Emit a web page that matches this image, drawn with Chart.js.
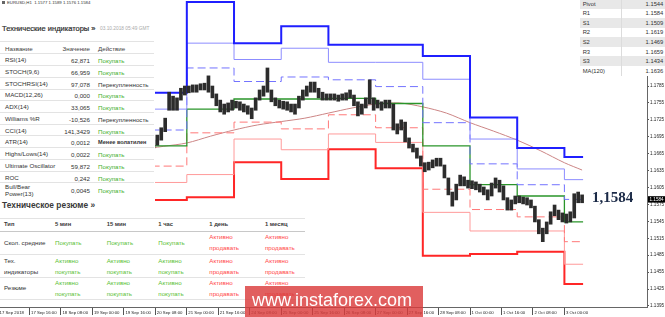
<!DOCTYPE html>
<html>
<head>
<meta charset="utf-8">
<script src="https://cdn.jsdelivr.net/npm/chart.js@4.4.1/dist/chart.umd.min.js"></script>
<style>
  body { margin: 0; background: #fff; font-family: "Liberation Sans", Arial, sans-serif; }
  #wrap { position: relative; width: 665px; height: 317px; overflow: hidden; background: #fff; }
  #chart { position: absolute; left: 0; top: 0; }
  .box { position: absolute; background: #fff; }
  .t { position: absolute; white-space: pre; }
  .row { position: absolute; left: 0; border-top: 1px solid #e3e3e3; }
  .mid { position: absolute; top: 50%; transform: translateY(-50%); white-space: pre; }
</style>
</head>
<body>
<div id="wrap">
  <canvas id="chart" width="665" height="317"></canvas>
  <div id="indPanel" class="box" style="left:0;top:0;width:155px;height:214px"></div>
  <div id="sumPanel" class="box" style="left:0;top:214px;width:305px;height:86px"></div>
  <div id="pivPanel" class="box" style="left:580px;top:-1px;width:85px;height:77px"></div>
  <div class="t" id="bigPrice" style="left:592px;top:190px;font:bold 15px/15px 'Liberation Serif',serif;color:#1b2a47"></div>
  <div class="t" id="mark" style="left:245px;top:286px;width:178px;height:31px;padding-left:7px;box-sizing:border-box;background:rgba(218,60,60,0.82);color:#fff;font-size:18px;line-height:29px">www.instaforex.com</div>
</div>
<script>
// --- price axis / time axis ---
const tickBars = [0, 16, 32, 48, 64, 80, 96, 112, 128, 144, 160, 176, 192, 208, 224, 240, 256, 272, 288];
const tickLabels = ["17 Sep 2018", "17 Sep 16:00", "18 Sep 08:00", "19 Sep 00:00", "19 Sep 16:00", "20 Sep 08:00",
  "21 Sep 00:00", "21 Sep 16:00", "24 Sep 08:00", "25 Sep 00:00", "25 Sep 16:00", "26 Sep 08:00", "27 Sep 00:00",
  "27 Sep 16:00", "28 Sep 08:00", "1 Oct 00:00", "1 Oct 16:00", "2 Oct 08:00", "3 Oct 00:00"];
const priceTicks = ["1.1395", "1.1425", "1.1455", "1.1485", "1.1515", "1.1545", "1.1575", "1.1605", "1.1635",
  "1.1665", "1.1695", "1.1725", "1.1755", "1.1785", "1.1815", "1.1845", "1.1875", "1.1905"];
const lastPrice = 1.1584;

// --- H1 candles, two hours per entry, starting at bar 79 ---
const candleFirstBar = 79;
const candleHigh = [1.1689,1.1698,1.1711,1.1728,1.1774,1.1767,1.1764,1.1781,1.1785,1.1785,
  1.1787,1.1787,1.1789,1.1790,1.1803,1.1785,1.1771,1.1760,1.1753,1.1755,
  1.1760,1.1758,1.1757,1.1753,1.1750,1.1746,1.1764,1.1778,1.1785,1.1817,
  1.1778,1.1764,1.1760,1.1758,1.1757,1.1753,1.1753,1.1767,1.1778,1.1785,
  1.1792,1.1792,1.1781,1.1774,1.1771,1.1771,1.1771,1.1769,1.1771,1.1773,
  1.1778,1.1769,1.1757,1.1753,1.1764,1.1796,1.1764,1.1760,1.1757,1.1760,
  1.1760,1.1753,1.1718,1.1725,1.1721,1.1693,1.1682,1.1675,1.1661,1.1649,
  1.1650,1.1654,1.1657,1.1657,1.1645,1.1622,1.1597,1.1611,1.1627,1.1624,
  1.1618,1.1617,1.1615,1.1611,1.1606,1.1601,1.1613,1.1622,1.1618,1.1608,
  1.1587,1.1583,1.1590,1.1590,1.1588,1.1587,1.1583,1.1572,1.1548,1.1533,
  1.1544,1.1562,1.1574,1.1565,1.1560,1.1558,1.1562,1.1594,1.1597,1.1592];
const candleLow = [1.1675,1.1680,1.1689,1.1704,1.1742,1.1742,1.1742,1.1760,1.1769,1.1773,
  1.1774,1.1774,1.1778,1.1778,1.1774,1.1764,1.1750,1.1739,1.1735,1.1739,
  1.1742,1.1746,1.1742,1.1739,1.1735,1.1727,1.1742,1.1760,1.1767,1.1774,
  1.1757,1.1750,1.1746,1.1744,1.1742,1.1739,1.1735,1.1746,1.1760,1.1767,
  1.1774,1.1774,1.1764,1.1760,1.1760,1.1760,1.1760,1.1758,1.1760,1.1760,
  1.1764,1.1750,1.1732,1.1735,1.1746,1.1753,1.1742,1.1746,1.1742,1.1746,
  1.1746,1.1707,1.1700,1.1707,1.1686,1.1675,1.1668,1.1657,1.1643,1.1633,
  1.1636,1.1640,1.1643,1.1643,1.1622,1.1592,1.1572,1.1583,1.1608,1.1608,
  1.1604,1.1603,1.1601,1.1597,1.1592,1.1583,1.1590,1.1604,1.1597,1.1583,
  1.1565,1.1565,1.1576,1.1578,1.1576,1.1574,1.1569,1.1544,1.1523,1.1509,
  1.1523,1.1540,1.1555,1.1548,1.1544,1.1542,1.1544,1.1551,1.1578,1.1578];

// --- daily pivot levels (20 Sep .. 3 Oct) ---
const dayStartBars = [72, 96, 120, 144, 168, 192, 216, 240, 264, 288];
const lastBar = 297.5;
const r3Levels = [1.1773, 1.1934, 1.1861, 1.1891, 1.1858, 1.1858, 1.1838, 1.1729, 1.1675, 1.1659];
const r2Levels = [1.1744, 1.1861, 1.1832, 1.1852, 1.1827, 1.1827, 1.1797, 1.1691, 1.1638, 1.1619];
const r1Levels = [1.1707, 1.1817, 1.1793, 1.1801, 1.1796, 1.1784, 1.1720, 1.1647, 1.1610, 1.1584];
const pivotLevels = [1.1679, 1.1744, 1.1762, 1.1762, 1.1763, 1.1754, 1.1679, 1.1610, 1.1590, 1.1544];
const s1Levels = [1.1643, 1.1702, 1.1721, 1.1709, 1.1734, 1.1711, 1.1602, 1.1566, 1.1553, 1.1509];
const s2Levels = [1.1614, 1.1628, 1.1691, 1.1672, 1.1700, 1.1685, 1.1561, 1.1528, 1.1528, 1.1469];
const s3Levels = [1.1583, 1.1588, 1.1650, 1.1620, 1.1673, 1.1639, 1.1484, 1.1487, 1.1491, 1.1434];

// --- MA(120) ---
const maBars = [72, 84, 96, 108, 120, 132, 144, 156, 168, 180, 192, 204, 216, 228, 240, 252, 264, 276, 288, 297];
const maValues = [1.1672, 1.1678, 1.1684, 1.1696, 1.1707, 1.1716, 1.1722, 1.1728, 1.1737, 1.1746,
  1.1753, 1.1755, 1.1748, 1.1737, 1.1720, 1.1705, 1.1689, 1.1670, 1.1649, 1.1636];

// --- overlay tables ---
const indNames = ["RSI(14)", "STOCH(9,6)", "STOCHRSI(14)", "MACD(12,26)", "ADX(14)", "Williams %R", "CCI(14)",
  "ATR(14)", "Highs/Lows(14)", "Ultimate Oscillator", "ROC", "Bull/Bear\nPower(13)"];
const indValues = ["62,871", "66,959", "97,078", "0,000", "33,065", "-10,526", "141,3429", "0,0012", "0,0022",
  "59,872", "0,242", "0,0045"];
const indActions = ["Покупать", "Покупать", "Перекупленность", "Покупать", "Покупать", "Перекупленность",
  "Покупать", "Менее волатилен", "Покупать", "Покупать", "Покупать", "Покупать"];
const sumCols = ["Тип", "5 мин", "15 мин", "1 час", "1 день", "1 месяц"];
const sumRows = ["Скол. средние", "Тех.\nиндикаторы", "Резюме"];
const sumCells = [
  ["Покупать", "Покупать", "Покупать", "Активно\nпродавать", "Активно\nпродавать"],
  ["Активно\nпокупать", "Активно\nпокупать", "Активно\nпокупать", "Активно\nпродавать", "Активно\nпродавать"],
  ["Активно\nпокупать", "Активно\nпокупать", "Активно\nпокупать", "Активно\nпродавать", "Активно\nпродавать"]
];
const pivNames = ["Pivot", "R1", "S1", "R2", "S2", "R3", "S3", "MA(120)"];
const pivValues = ["1.1544", "1.1584", "1.1509", "1.1619", "1.1469", "1.1659", "1.1434", "1.1636"];

const GREEN = "#45b02c", RED = "#ff4a4a", TXT = "#333";
function actColor(a) {
  if (a.indexOf("окупать") >= 0) return GREEN;
  if (a.indexOf("родавать") >= 0) return RED;
  return TXT;
}

// technical indicators panel
let h = '';
h += `<div class="t" style="left:2px;top:0;font-size:4.3px;line-height:6px;color:#333"><span style="display:inline-block;width:3px;height:3px;background:#666;margin-right:2px"></span>EURUSD,H1&nbsp; 1.1577 1.1589 1.1576 1.1584</div>`;
h += `<div class="t" style="left:2px;top:24px;font-size:7.5px;line-height:10px;color:#2e2e2e;-webkit-text-stroke:0.2px #2e2e2e">Технические индикаторы »</div>`;
h += `<div class="t" style="left:100px;top:26px;font-size:4.8px;line-height:6px;color:#aaa">03.10.2018 05:49 GMT</div>`;
h += `<div class="row" style="top:40.5px;width:154px;height:12.8px;font-size:6.2px;color:#444">
  <span class="mid" style="left:5px">Название</span><span class="mid" style="right:64px">Значение</span><span class="mid" style="left:98px">Действие</span></div>`;
indNames.forEach((name, i) => {
  const top = 53.3 + i * 11.74;
  const ht = i === indNames.length - 1 ? 14 : 11.74;
  const a = indActions[i];
  const bold = a === "Менее волатилен" ? "font-weight:bold;font-size:5.6px;" : "";
  h += `<div class="row" style="top:${top}px;width:154px;height:${ht}px;font-size:6.2px;color:${TXT}">
    <span class="mid" style="left:5px;line-height:6.5px">${name}</span>
    <span class="mid" style="right:64px">${indValues[i]}</span>
    <span class="mid" style="left:98px;color:${actColor(a)};${bold}">${a}</span></div>`;
});
h += `<div class="t" style="left:2px;top:199px;font-size:8.4px;line-height:12px;font-weight:bold;color:#3a3a3a">Техническое резюме »</div>`;
document.getElementById('indPanel').innerHTML = h;

// summary table
const colX = [4, 55, 106.7, 158.3, 209.3, 265];
const rowMid = [28.3, 51.5, 73.8];
let s = '';
s += `<div class="row" style="top:4.3px;width:305px;height:11.7px;border-bottom:1.5px solid #c8c8c8"></div>`;
sumCols.forEach((c, j) => {
  s += `<div class="t" style="left:${colX[j]}px;top:7px;font-size:5.8px;line-height:6px;font-weight:bold;color:#3a3a3a">${c}</div>`;
});
[40, 63, 84.5].forEach(y => { s += `<div class="row" style="top:${y}px;width:305px;height:0"></div>`; });
sumRows.forEach((r, i) => {
  const n = r.split('\n').length;
  s += `<div class="t" style="left:4px;top:${rowMid[i] - n * 5.5}px;font-size:6.2px;line-height:11px;color:${TXT}">${r}</div>`;
  sumCells[i].forEach((c, j) => {
    const m = c.split('\n').length;
    s += `<div class="t" style="left:${colX[j + 1]}px;top:${rowMid[i] - m * 5.5}px;font-size:6.2px;line-height:11px;color:${actColor(c) === GREEN ? '#5cbf36' : RED}">${c}</div>`;
  });
});
document.getElementById('sumPanel').innerHTML = s;

// pivot table
let p = '';
pivNames.forEach((n, i) => {
  p += `<div style="position:absolute;left:0;top:${i * 9.57}px;width:85px;height:9.57px;background:${i % 2 === 0 ? '#e8e8e8' : '#fff'};font-size:5.8px;color:#333">
    <span class="mid" style="left:2.7px">${n}</span><span class="mid" style="right:1.7px">${pivValues[i]}</span></div>`;
});
p += `<div style="position:absolute;left:41px;top:0;width:1px;height:76.5px;background:#dcdcdc"></div>`;
document.getElementById('pivPanel').innerHTML = p;

document.getElementById('bigPrice').textContent = lastPrice.toFixed(4).replace('.', ',');

// --- chart ---
function stepData(values) {
  const pts = values.map((v, i) => ({ x: dayStartBars[i], y: v }));
  pts.push({ x: lastBar, y: values[values.length - 1] });
  return pts;
}
function levelLine(values, color, width, dash) {
  return { type: 'line', data: stepData(values), borderColor: color, borderWidth: width, borderDash: dash,
    stepped: 'before', pointRadius: 0, fill: false, order: 2 };
}

const lastPriceBox = {
  id: 'lastPriceBox',
  afterDraw(chart) {
    const y = chart.scales.y.getPixelForValue(lastPrice);
    const x0 = chart.chartArea.right + 1;
    const ctx = chart.ctx;
    ctx.save();
    ctx.fillStyle = '#000';
    ctx.fillRect(x0, y - 3.2, 17, 6.4);
    ctx.fillStyle = '#fff';
    ctx.font = '4.6px "Liberation Sans"';
    ctx.textBaseline = 'middle';
    ctx.fillText(lastPrice.toFixed(4), x0 + 1.5, y + 0.2);
    ctx.restore();
  }
};

new Chart(document.getElementById('chart'), {
  type: 'bar',
  data: {
    datasets: [
      { type: 'bar', data: candleHigh.map((hi, i) => ({ x: candleFirstBar + 2 * i, y: [candleLow[i], hi] })),
        backgroundColor: '#2c2c2c', barThickness: 3, order: 0 },
      levelLine(r3Levels, '#1f1fff', 2, []),
      levelLine(r2Levels, '#8c8cff', 1, []),
      levelLine(r1Levels, '#7373ff', 1, [8, 4]),
      levelLine(pivotLevels, '#2a952a', 1.3, []),
      levelLine(s1Levels, '#ff7878', 1, [8, 4]),
      levelLine(s2Levels, '#ff9a9a', 1, []),
      levelLine(s3Levels, '#ff2626', 2, []),
      { type: 'line', data: maBars.map((b, i) => ({ x: b, y: maValues[i] })), borderColor: '#cc8585',
        borderWidth: 1, tension: 0.3, pointRadius: 0, fill: false, order: 3 }
    ]
  },
  options: {
    responsive: false,
    animation: false,
    layout: { padding: 0 },
    plugins: { legend: { display: false }, tooltip: { enabled: false } },
    scales: {
      x: {
        type: 'linear', min: 1, max: 330, offset: false,
        afterBuildTicks: sc => { sc.ticks = tickBars.map(b => ({ value: b })); },
        afterFit: sc => { sc.height = 10; sc.paddingLeft = 0; sc.paddingRight = 0; },
        ticks: { autoSkip: false, maxRotation: 0, minRotation: 0, align: 'start', labelOffset: 1.5, padding: -5,
          color: '#222', font: { size: 4.3, family: 'Liberation Sans' }, callback: (v, i) => tickLabels[i] },
        grid: { display: true, drawOnChartArea: false, tickLength: 8, color: '#555', offset: false },
        border: { display: true, color: '#666' }
      },
      y: {
        type: 'linear', position: 'right', min: 1.13932, max: 1.19375,
        afterBuildTicks: sc => { sc.ticks = priceTicks.map(v => ({ value: parseFloat(v) })); },
        afterFit: sc => { sc.width = 18; sc.paddingTop = 0; sc.paddingBottom = 0; },
        ticks: { padding: 1, color: '#222', font: { size: 4.6, family: 'Liberation Sans' }, callback: (v, i) => priceTicks[i] },
        grid: { display: true, drawOnChartArea: false, tickLength: 2, color: '#555' },
        border: { display: true, color: '#666' }
      }
    }
  },
  plugins: [lastPriceBox]
});
</script>
</body>
</html>
